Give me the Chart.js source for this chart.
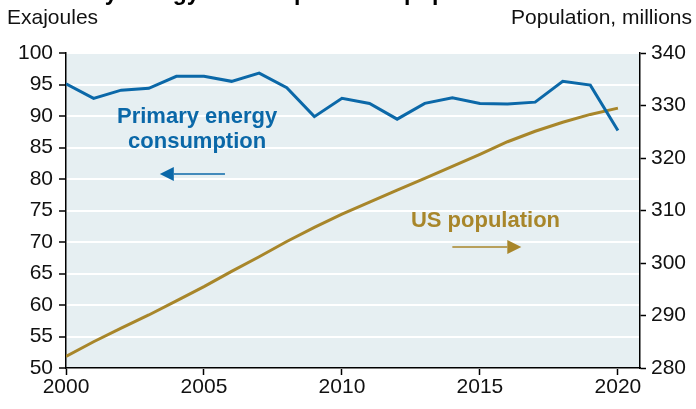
<!DOCTYPE html>
<html>
<head>
<meta charset="utf-8">
<script src="https://cdn.jsdelivr.net/npm/chart.js@4.4.1/dist/chart.umd.min.js"></script>
<style>
  html, body { margin: 0; padding: 0; background: #fff; }
  #wrap { width: 696px; height: 409px; position: relative; }
</style>
</head>
<body>
<div id="wrap"><canvas id="chart"></canvas></div>
<script>
'use strict';

// ------------------------------------------------------- //
// Data
// ------------------------------------------------------ //
var years = [2000, 2001, 2002, 2003, 2004, 2005, 2006, 2007, 2008, 2009, 2010,
             2011, 2012, 2013, 2014, 2015, 2016, 2017, 2018, 2019, 2020];
var energy = [95.1, 92.8, 94.1, 94.4, 96.3, 96.3, 95.5, 96.8, 94.5, 89.9, 92.8,
              92.0, 89.5, 92.0, 92.9, 92.0, 91.9, 92.2, 95.5, 94.9, 87.7];
var population = [282.2, 285.0, 287.6, 290.1, 292.8, 295.5, 298.4, 301.2, 304.1, 306.8, 309.3,
                  311.6, 313.9, 316.1, 318.4, 320.7, 323.1, 325.1, 326.8, 328.3, 329.5];
var xTicks = [2000, 2005, 2010, 2015, 2020];
var leftTicks = [50, 55, 60, 65, 70, 75, 80, 85, 90, 95, 100];
var rightTicks = [280, 290, 300, 310, 320, 330, 340];

var BLUE = '#0b68a8';
var GOLD = '#a8862a';
var FONT = '"Liberation Sans", Arial, sans-serif';

function toPoints(xs, ys) {
    return xs.map(function (x, i) { return { x: x, y: ys[i] }; });
}

// ------------------------------------------------------- //
// Plot background, titles, annotations
// ------------------------------------------------------ //
var decor = {
    id: 'decor',
    beforeDraw: function (chart) {
        var a = chart.chartArea, ctx = chart.ctx;
        ctx.save();
        ctx.fillStyle = '#e6eff2';
        ctx.fillRect(a.left, a.top, a.right - a.left, a.bottom - a.top);
        ctx.restore();
    },
    afterDraw: function (chart) {
        var ctx = chart.ctx, x = chart.scales.x, y = chart.scales.y;
        ctx.save();
        // title, mostly cut off at the top edge
        ctx.fillStyle = '#000';
        ctx.font = 'bold 23px ' + FONT;
        ctx.textAlign = 'left';
        ctx.textBaseline = 'alphabetic';
        ctx.fillText('Primary energy consumption and population', 32, 0);

        ctx.font = '21px ' + FONT;
        ctx.fillStyle = '#111';
        ctx.fillText('Exajoules', 7, 24);
        ctx.textAlign = 'right';
        ctx.fillText('Population, millions', 692, 24);

        // annotations
        ctx.font = 'bold 22px ' + FONT;
        ctx.textAlign = 'center';
        ctx.textBaseline = 'middle';
        ctx.fillStyle = BLUE;
        ctx.fillText('Primary energy', x.getPixelForValue(2004.75), y.getPixelForValue(89.9));
        ctx.fillText('consumption', x.getPixelForValue(2004.75), y.getPixelForValue(85.9));
        ctx.fillStyle = GOLD;
        ctx.fillText('US population', x.getPixelForValue(2015.2), y.getPixelForValue(73.4));

        arrow(ctx, x.getPixelForValue(2005.76), x.getPixelForValue(2003.4), y.getPixelForValue(80.8), BLUE);
        arrow(ctx, x.getPixelForValue(2014.0), x.getPixelForValue(2016.5), y.getPixelForValue(69.2), GOLD);
        ctx.restore();
    }
};

function arrow(ctx, x0, x1, yy, color) {
    var dir = x1 > x0 ? 1 : -1;
    var head = 14;
    ctx.strokeStyle = color;
    ctx.fillStyle = color;
    ctx.lineWidth = 1.6;
    ctx.beginPath();
    ctx.moveTo(x0, yy);
    ctx.lineTo(x1 - dir * head, yy);
    ctx.stroke();
    ctx.beginPath();
    ctx.moveTo(x1, yy);
    ctx.lineTo(x1 - dir * head, yy - 7);
    ctx.lineTo(x1 - dir * head, yy + 7);
    ctx.closePath();
    ctx.fill();
}

// ------------------------------------------------------- //
// Chart
// ------------------------------------------------------ //
Chart.defaults.font.family = FONT;
Chart.defaults.color = '#111';

new Chart(document.getElementById('chart'), {
    type: 'line',
    data: {
        datasets: [{
            label: 'Primary energy consumption',
            data: toPoints(years, energy),
            yAxisID: 'y',
            borderColor: BLUE,
            borderWidth: 3,
            pointRadius: 0,
            tension: 0
        }, {
            label: 'US population',
            data: toPoints(years, population),
            yAxisID: 'y2',
            borderColor: GOLD,
            borderWidth: 3,
            pointRadius: 0,
            tension: 0
        }]
    },
    options: {
        responsive: true,
        maintainAspectRatio: false,
        animation: false,
        layout: { padding: { top: 53, left: 0, right: 0, bottom: 0 } },
        plugins: { legend: { display: false }, tooltip: { enabled: false } },
        scales: {
            x: {
                type: 'linear',
                min: 2000,
                max: 2020.8,
                afterBuildTicks: function (s) { s.ticks = xTicks.map(function (v) { return { value: v }; }); },
                afterFit: function (s) { s.height = 41; },
                grid: { drawOnChartArea: false, tickColor: '#000', tickLength: 7, tickWidth: 1.5 },
                border: { color: '#000', width: 1.5 },
                ticks: { font: { size: 21 }, color: '#111', padding: 0, maxRotation: 0,
                         callback: function (v) { return String(v); } }
            },
            y: {
                position: 'left',
                min: 50,
                max: 100,
                afterBuildTicks: function (s) { s.ticks = leftTicks.map(function (v) { return { value: v }; }); },
                afterFit: function (s) { s.width = 66; },
                grid: { color: '#ffffff', lineWidth: 2, tickColor: '#000', tickLength: 7, tickWidth: 1.5 },
                border: { color: '#000', width: 1.5 },
                ticks: { font: { size: 21 }, color: '#111', padding: 6 }
            },
            y2: {
                position: 'right',
                min: 280,
                max: 340,
                afterBuildTicks: function (s) { s.ticks = rightTicks.map(function (v) { return { value: v }; }); },
                afterFit: function (s) { s.width = 56; },
                grid: { drawOnChartArea: false, tickColor: '#000', tickLength: 6, tickWidth: 1.5 },
                border: { color: '#000', width: 1.5 },
                ticks: { font: { size: 21 }, color: '#111', padding: 5 }
            }
        }
    },
    plugins: [decor]
});
</script>
</body>
</html>
